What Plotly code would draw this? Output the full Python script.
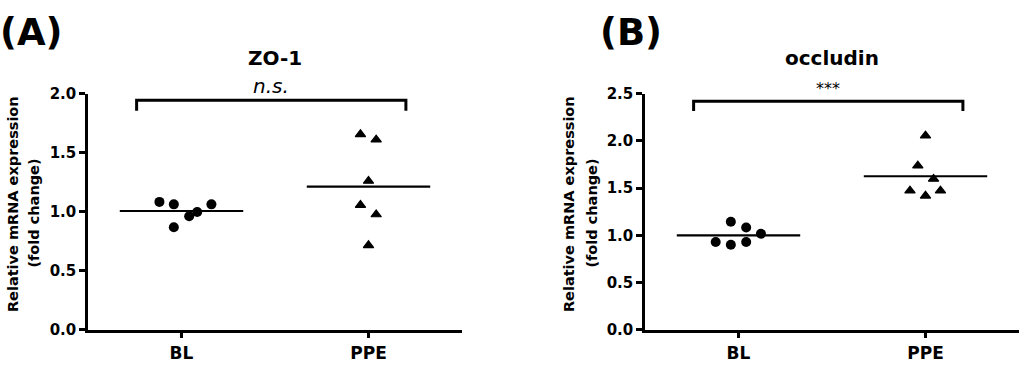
import plotly.graph_objects as go
from plotly.subplots import make_subplots

# ---- data ----
categories = ["BL", "PPE"]

zo1_bl = [1.083, 1.062, 0.868, 0.962, 0.997, 1.062]
zo1_bl_jitter = [-0.118, -0.041, -0.041, 0.041, 0.084, 0.16]
zo1_ppe = [1.656, 1.610, 1.260, 1.056, 0.976, 0.715]
zo1_ppe_jitter = [-0.043, 0.041, 0.0, -0.043, 0.041, 0.0]

occ_bl = [0.929, 1.144, 0.899, 1.083, 0.929, 1.016]
occ_bl_jitter = [-0.122, -0.041, -0.041, 0.041, 0.041, 0.12]
occ_ppe = [2.055, 1.737, 1.597, 1.472, 1.418, 1.472]
occ_ppe_jitter = [0.0, -0.041, 0.043, -0.083, 0.0, 0.08]

panel_titles = ["ZO-1", "occludin"]
panel_letters = ["(A)", "(B)"]
sig_labels = ["<i>n.s.</i>", "***"]
bracket_y = [1.944, 2.42]
bracket_drop = [0.089, 0.103]
y_max = [2.0, 2.5]
y_ticks = [[0, 0.5, 1.0, 1.5, 2.0], [0, 0.5, 1.0, 1.5, 2.0, 2.5]]

panels = [
    (zo1_bl, zo1_bl_jitter, zo1_ppe, zo1_ppe_jitter),
    (occ_bl, occ_bl_jitter, occ_ppe, occ_ppe_jitter),
]

W, H = 1024, 372
FONT = "DejaVu Sans"

fig = make_subplots(rows=1, cols=2)

x_domains = [[88 / W, 462 / W], [645 / W, 1019 / W]]
y_domain = [(H - 337) / H, (H - 89) / H]

for p, (bl, blj, ppe, ppej) in enumerate(panels):
    col = p + 1
    groups = [(bl, blj, "circle"), (ppe, ppej, "triangle-up")]
    # mean lines
    for gi, (vals, jit, sym) in enumerate(groups):
        m = sum(vals) / len(vals)
        fig.add_trace(go.Scatter(x=[gi - 0.33, gi + 0.33], y=[m, m], mode="lines",
                                 line=dict(color="black", width=2.2),
                                 showlegend=False, hoverinfo="skip"), row=1, col=col)
    for gi, (vals, jit, sym) in enumerate(groups):
        fig.add_trace(go.Scatter(x=[gi + j for j in jit], y=vals, mode="markers",
                                 marker=dict(symbol=sym, color="black",
                                             size=10 if sym == "circle" else 9,
                                             line=dict(color="black", width=0 if sym == "circle" else 1.2)),
                                 showlegend=False), row=1, col=col)
    # significance bracket
    by = bracket_y[p]
    bd = bracket_drop[p]
    fig.add_trace(go.Scatter(x=[-0.24, -0.24, 1.2, 1.2], y=[by - bd, by, by, by - bd],
                             mode="lines", line=dict(color="black", width=3),
                             showlegend=False, hoverinfo="skip", cliponaxis=False), row=1, col=col)
    xref = "x" if p == 0 else "x2"
    yref = "y" if p == 0 else "y2"
    fig.add_annotation(x=0.48, y=by, xref=xref, yref=yref, text=sig_labels[p],
                       showarrow=False, yanchor="bottom", yshift=0 if p == 0 else 1,
                       font=dict(family=FONT, size=20 if p == 0 else 16, color="black"))

axis_common = dict(showline=True, linecolor="black", linewidth=2.5, ticks="outside",
                   ticklen=6, tickwidth=2.5, tickcolor="black", showgrid=False, zeroline=False)

for p in range(2):
    fig.update_xaxes(domain=x_domains[p], range=[-0.5, 1.5], tickvals=[0, 1],
                     ticktext=[f"<b>{c}</b>" for c in categories], row=1, col=p + 1,
                     tickfont=dict(family=FONT, size=17, color="black"), **axis_common)
    fig.update_yaxes(domain=y_domain, range=[0, y_max[p]], tickvals=y_ticks[p],
                     ticktext=[f"<b>{v:.1f}</b>" for v in y_ticks[p]], row=1, col=p + 1,
                     tickfont=dict(family=FONT, size=15, color="black"), **axis_common)

# titles, panel letters, y-axis titles
title_x = [275, 832]
letter_x = [31, 631]
ytitle1_x = [13, 569]
ytitle2_x = [34, 592]
for p in range(2):
    fig.add_annotation(x=title_x[p] / W, y=(H - 52) / H, xref="paper", yref="paper",
                       text=f"<b>{panel_titles[p]}</b>", showarrow=False,
                       xanchor="center", yanchor="middle",
                       font=dict(family=FONT, size=20, color="black"))
    fig.add_annotation(x=letter_x[p] / W, y=(H - 25) / H, xref="paper", yref="paper",
                       text=f"<b>{panel_letters[p]}</b>", showarrow=False,
                       xanchor="center", yanchor="middle",
                       font=dict(family=FONT, size=37, color="black"))
    fig.add_annotation(x=ytitle1_x[p] / W, y=(H - 205) / H, xref="paper", yref="paper",
                       text="<b>Relative mRNA expression</b>", showarrow=False, textangle=-90,
                       xanchor="center", yanchor="middle",
                       font=dict(family=FONT, size=14.5, color="black"))
    fig.add_annotation(x=ytitle2_x[p] / W, y=(H - 215) / H, xref="paper", yref="paper",
                       text="<b>(fold change)</b>", showarrow=False, textangle=-90,
                       xanchor="center", yanchor="middle",
                       font=dict(family=FONT, size=14.5, color="black"))

fig.update_layout(width=W, height=H, margin=dict(l=0, r=0, t=0, b=0),
                  plot_bgcolor="white", paper_bgcolor="white", showlegend=False)

post = """
var s = document.createElement('style');
s.textContent = 'html,body{margin:0!important;padding:0!important;overflow:hidden!important;}';
document.head.appendChild(s);
"""

fig.write_html("out.html", config={"displayModeBar": False}, post_script=post)
